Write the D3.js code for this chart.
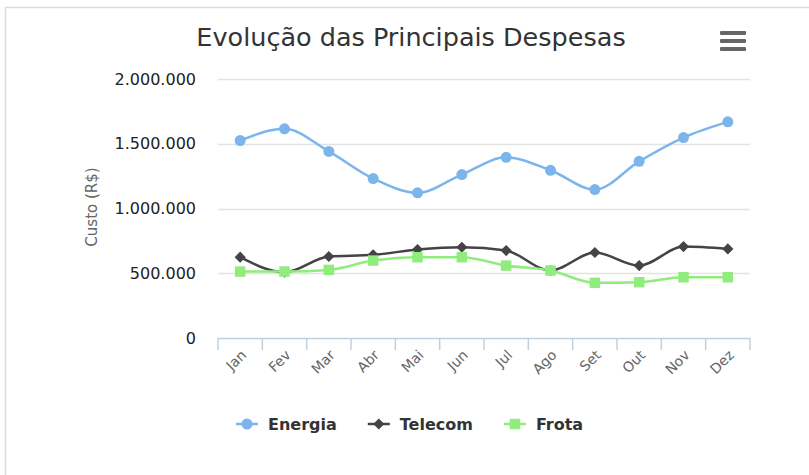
<!DOCTYPE html>
<html>
<head>
<meta charset="utf-8">
<script src="https://cdn.jsdelivr.net/npm/d3@7"></script>
<style>
  body { margin: 0; background: #fff; }
  svg { display: block; font-family: "DejaVu Sans", sans-serif; }
</style>
</head>
<body>
<svg width="809" height="475"></svg>
<script>
let months = ['Jan', 'Fev', 'Mar', 'Abr', 'Mai', 'Jun', 'Jul', 'Ago', 'Set', 'Out', 'Nov', 'Dez']
let energia = [1525000, 1615000, 1441000, 1231000, 1121000, 1262000, 1395000, 1295000, 1146000, 1364000, 1548000, 1669000]
let telecom = [624000, 508000, 629000, 642000, 683000, 701000, 675000, 521000, 660000, 559000, 706000, 688000]
let frota = [513000, 513000, 526000, 598000, 624000, 624000, 559000, 521000, 426000, 431000, 469000, 469000]
let yTicks = [0, 500000, 1000000, 1500000, 2000000]

let series = [
    { name: 'Energia', values: energia, color: '#7cb5ec', symbol: d3.symbolCircle, size: 95, rot: 0 },
    { name: 'Telecom', values: telecom, color: '#434348', symbol: d3.symbolSquare, size: 62, rot: 45 },
    { name: 'Frota', values: frota, color: '#90ed7d', symbol: d3.symbolSquare, size: 110, rot: 0 }
]

let svg = d3.select('svg')

// chart frame
svg.append('path')
    .attr('d', 'M5.5,475 V7.5 H809')
    .attr('fill', 'none')
    .attr('stroke', '#dcdcdc')
    .attr('stroke-width', 1.5)

let x = d3.scaleBand().domain(months).range([218, 750])
let y = d3.scaleLinear().domain([0, 2000000]).range([338, 79])

let fmt = v => d3.format(',')(v).replace(/,/g, '.')

// title
svg.append('text')
    .attr('x', 411)
    .attr('y', 46)
    .attr('text-anchor', 'middle')
    .attr('fill', '#333')
    .style('font-size', '25.5px')
    .text('Evolução das Principais Despesas')

// menu icon
svg.selectAll('.menu')
    .data([0, 1, 2])
    .enter()
    .append('rect')
    .attr('x', 720)
    .attr('y', d => 31 + d * 8)
    .attr('width', 26)
    .attr('height', 4)
    .attr('rx', 1)
    .attr('fill', '#666')

// grid
svg.selectAll('.grid')
    .data(yTicks.filter(d => d > 0))
    .enter()
    .append('line')
    .attr('x1', 218)
    .attr('x2', 750)
    .attr('y1', d => Math.round(y(d)) + 0.5)
    .attr('y2', d => Math.round(y(d)) + 0.5)
    .attr('stroke', '#e3e3e3')
    .attr('stroke-width', 1.5)

// y axis labels
svg.selectAll('.ylab')
    .data(yTicks)
    .enter()
    .append('text')
    .attr('x', 196)
    .attr('y', d => y(d) + 5.5)
    .attr('text-anchor', 'end')
    .attr('fill', '#222')
    .style('font-size', '16px')
    .text(d => fmt(d))

svg.append('text')
    .attr('transform', 'translate(97,207) rotate(-90)')
    .attr('text-anchor', 'middle')
    .attr('fill', '#666')
    .style('font-size', '15px')
    .text('Custo (R$)')

// x axis
let xAxis = svg.append('g')
xAxis.append('line')
    .attr('x1', 218).attr('x2', 750)
    .attr('y1', 338.5).attr('y2', 338.5)
    .attr('stroke', '#c0d0e0')
    .attr('stroke-width', 1.5)
xAxis.selectAll('.tick')
    .data(months.concat(['end']))
    .enter()
    .append('line')
    .attr('x1', (d, i) => i < months.length ? x(d) : x.range()[1])
    .attr('x2', (d, i) => i < months.length ? x(d) : x.range()[1])
    .attr('y1', 338)
    .attr('y2', 350)
    .attr('stroke', '#c0d0e0')
    .attr('stroke-width', 1.5)
xAxis.selectAll('.xlab')
    .data(months)
    .enter()
    .append('text')
    .attr('transform', d => `translate(${x(d) + x.bandwidth() / 2 + 7},356) rotate(-45)`)
    .attr('text-anchor', 'end')
    .attr('fill', '#666')
    .style('font-size', '14px')
    .text(d => d)

// lines
let line = d3.line()
    .x((d, i) => x(months[i]) + x.bandwidth() / 2)
    .y(d => y(d))
    .curve(d3.curveMonotoneX)

series.forEach(s => {
    svg.append('path')
        .datum(s.values)
        .attr('d', line)
        .attr('fill', 'none')
        .attr('stroke', s.color)
        .attr('stroke-width', 2.5)
    svg.selectAll('.pt-' + s.name)
        .data(s.values)
        .enter()
        .append('path')
        .attr('d', d3.symbol().type(s.symbol).size(s.size))
        .attr('transform', (d, i) => `translate(${x(months[i]) + x.bandwidth() / 2},${y(d)}) rotate(${s.rot})`)
        .attr('fill', s.color)
})

// legend
let lx = 236
series.forEach(s => {
    let g = svg.append('g').attr('transform', `translate(${lx},424)`)
    g.append('line')
        .attr('x1', 0).attr('x2', 22)
        .attr('stroke', s.color)
        .attr('stroke-width', 2.5)
    g.append('path')
        .attr('d', d3.symbol().type(s.symbol).size(s.size))
        .attr('transform', `translate(11,0) rotate(${s.rot})`)
        .attr('fill', s.color)
    let t = g.append('text')
        .attr('x', 32)
        .attr('y', 6)
        .attr('fill', '#333')
        .style('font-size', '16px')
        .style('font-weight', 'bold')
        .text(s.name)
    lx += 32 + t.node().getComputedTextLength() + 31
})
</script>
</body>
</html>
